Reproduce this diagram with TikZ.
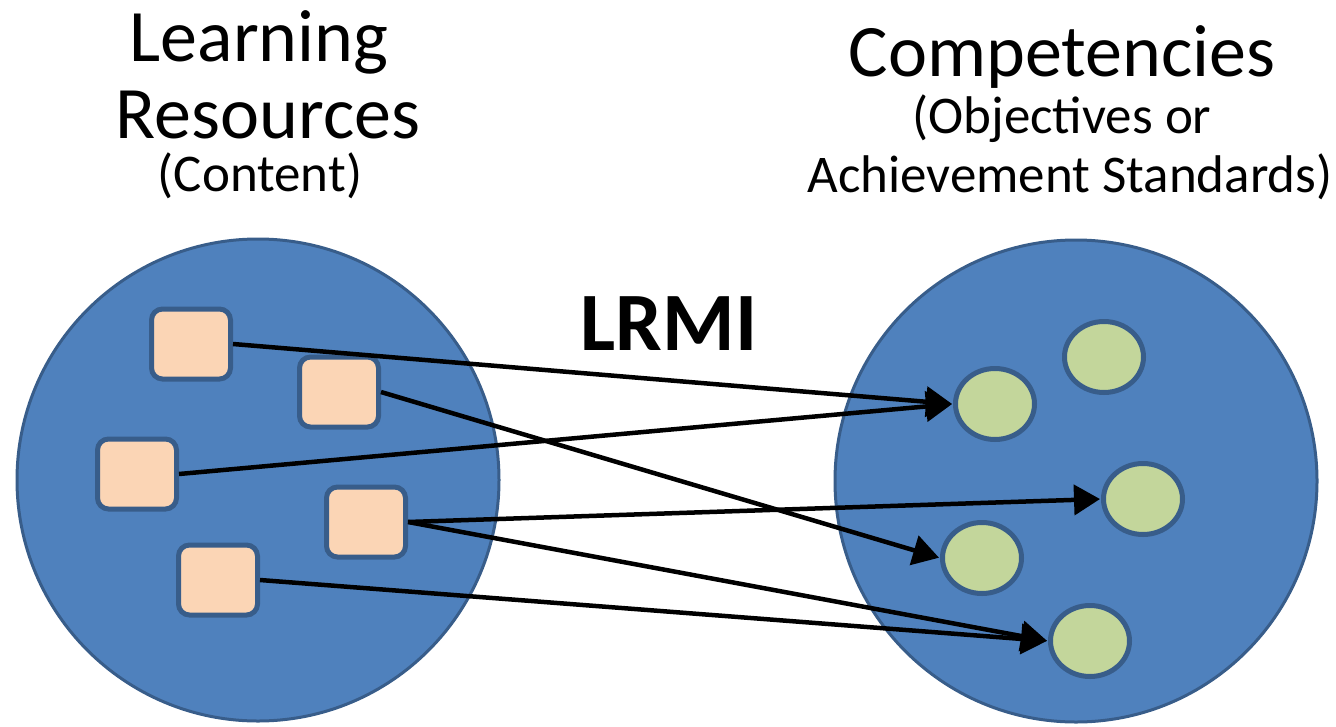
\documentclass[tikz,border=0pt]{standalone}
\usepackage{fontspec}
\setmainfont{Carlito}
\usetikzlibrary{arrows.meta,shapes.geometric}
\definecolor{bigblue}{HTML}{4F81BD}
\definecolor{edgeblue}{HTML}{385D8A}
\definecolor{peach}{HTML}{FBD5B5}
\definecolor{leaf}{HTML}{C3D69B}
\tikzset{
  bigcircle/.style={circle, fill=bigblue, draw=edgeblue, line width=3pt, minimum size=482pt, inner sep=0pt},
  resbox/.style={rectangle, rounded corners=11pt, fill=peach, draw=edgeblue, line width=5pt, minimum width=79pt, minimum height=70pt, inner sep=0pt},
  compell/.style={ellipse, fill=leaf, draw=edgeblue, line width=5pt, minimum width=79pt, minimum height=71pt, inner sep=0pt},
  link/.style={line width=4.5pt, -{Triangle[length=26pt, width=30pt]}, shorten >=1pt},
  bigtxt/.style={anchor=base, inner sep=0pt, text height=48pt, text depth=0pt, font=\fontsize{74}{80}\selectfont},
  smalltxt/.style={anchor=base, inner sep=0pt, text height=34pt, text depth=8pt, font=\fontsize{53}{58}\selectfont},
}
\begin{document}
\begin{tikzpicture}[x=1pt, y=-1pt]
\useasboundingbox (0,0) rectangle (1336,726);
\node[bigcircle] (lc) at (258,480) {};
\node[bigcircle] (rc) at (1076,481) {};
\node[resbox] (s1) at (191,344) {};
\node[resbox] (s2) at (339,392) {};
\node[resbox] (s3) at (137,474) {};
\node[resbox] (s4) at (366,522) {};
\node[resbox] (s5) at (218,580) {};
\node[compell] (e1) at (995,404) {};
\node[compell] (e2) at (1104,357) {};
\node[compell] (e3) at (1143,499) {};
\node[compell] (e4) at (982,558) {};
\node[compell] (e5) at (1090,641) {};
\draw[link] (s1.east) -- (e1.west);
\draw[link] (s3.east) -- (e1.west);
\draw[link] (s2.east) -- (e4.west);
\draw[link] (s4.east) -- (e3.west);
\draw[link] (s4.east) -- (e5.west);
\draw[link] (s5.east) -- (e5.west);
\node[bigtxt] (t1) at (259,61) {Learning};
\node[bigtxt] (t2) at (268,138) {Resources};
\node[smalltxt] (t3) at (260,191) {(Content)};
\node[bigtxt] (t4) at (1062,76) {Competencies};
\node[smalltxt] (t5) at (1062,133) {(Objectives or};
\node[smalltxt] (t6) at (1070,192) {Achievement Standards)};
\node[anchor=base, inner sep=0pt, font=\fontsize{83}{88}\selectfont\bfseries] (lrmi) at (669,350) {LRMI};
\end{tikzpicture}
\end{document}
